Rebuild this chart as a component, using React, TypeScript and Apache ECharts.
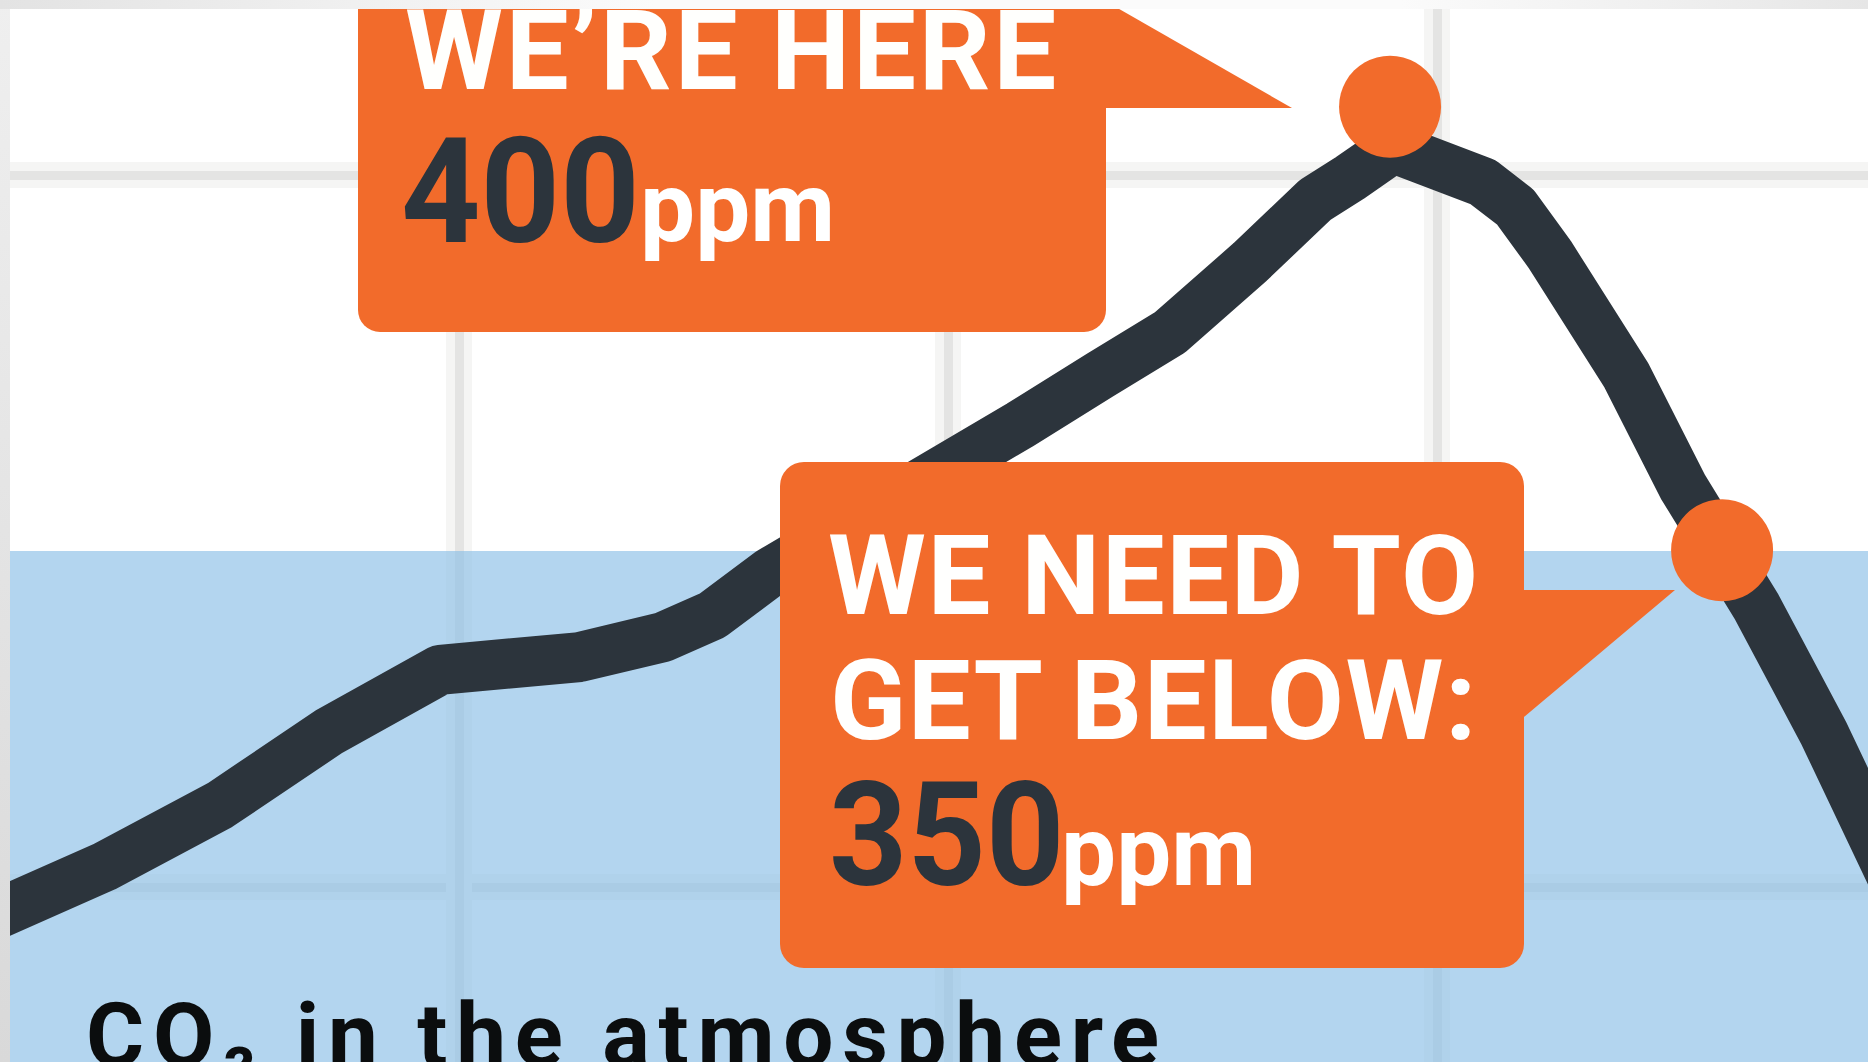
import React, { useEffect, useRef } from "react";
import * as echarts from "echarts";

// CO2 curve (x: time units, gridline every 10; y: level units, gridline every 10)
const curveX = [0, 2.76, 5.11, 7.36, 9.61, 12.47, 14.17, 15.19, 16.36, 21.47, 23.11, 24.54, 26.18, 27.51, 28.22, 29.1, 30.94, 31.6, 32.31, 33.87, 35.03, 36.54, 37.91, 40.0];
const curveY = [9.45, 10.29, 11.15, 12.19, 13.05, 13.23, 13.51, 13.82, 14.42, 16.49, 17.19, 17.79, 18.78, 19.65, 19.96, 20.38, 19.9, 19.55, 18.88, 17.19, 15.62, 13.93, 12.16, 9.14];

// highlighted points: "we're here" (400 ppm) and "need to get below" (350 ppm)
const markerX = [29.04, 35.83];
const markerY = [20.96, 14.73];

// safe zone band (below 350 ppm)
const bandFrom = 0;
const bandTo = 14.72;

// axis ranges
const xRange = [0, 40];
const yRange = [0, 30];
const gridStep = 10;

const calloutTop = ["WE\u2019RE HERE", "400", "ppm"];
const calloutBottom = ["WE NEED TO", "GET BELOW:", "350", "ppm"];
const footerTitle = "CO\u2082 in the atmosphere";

const ORANGE = "#f26b2b";
const DARK = "#2c343c";
const FONT = "Roboto, 'Liberation Sans', sans-serif";

// text colours (slightly distinct so that spacing can be tuned per text)
const CAPTION_FILL = "#fffffe";
const CAPTION2_FILL = "#fffffd";
const UNIT_FILL = "#ffffff";
const FOOTER_FILL = "#0b0d0e";

export default function App() {
  const ref = useRef<HTMLDivElement>(null);

  useEffect(() => {
    if (!ref.current) return;
    const chart = echarts.init(ref.current, undefined, { renderer: "svg" });
    const data = curveX.map((x, i) => [x, curveY[i]]);
    const markers = markerX.map((x, i) => [x, markerY[i]]);

    const hiddenAxis = {
      type: "value" as const,
      interval: gridStep,
      axisLine: { show: false },
      axisTick: { show: false },
      axisLabel: { show: false },
    };

    const text = (t: string, x: number, y: number, size: number, fill: string, scaleX = 1) => ({
      type: "text",
      z: 60,
      x,
      y,
      scaleX,
      scaleY: 1,
      style: {
        text: t,
        x: 0,
        y: 0,
        fill,
        fontSize: size,
        fontWeight: "bold",
        fontFamily: FONT,
        textAlign: "left",
        verticalAlign: "middle",
        textVerticalAlign: "middle",
      },
    });

    chart.setOption({
      animation: false,
      backgroundColor: "#ffffff",
      grid: { left: -30, right: -58, top: -537, bottom: -537, outerBoundsMode: "none" },
      xAxis: [
        {
          ...hiddenAxis,
          min: xRange[0],
          max: xRange[1],
          splitLine: { show: true, lineStyle: { color: "#f5f5f4", width: 26 } },
        },
        {
          ...hiddenAxis,
          min: xRange[0],
          max: xRange[1],
          position: "top",
          splitLine: { show: true, lineStyle: { color: "#e4e4e3", width: 9 } },
        },
      ],
      yAxis: [
        {
          ...hiddenAxis,
          min: yRange[0],
          max: yRange[1],
          splitLine: { show: true, lineStyle: { color: "#f5f5f4", width: 26 } },
        },
        {
          ...hiddenAxis,
          min: yRange[0],
          max: yRange[1],
          position: "right",
          splitLine: { show: true, lineStyle: { color: "#e4e4e3", width: 9 } },
        },
      ],
      series: [
        {
          type: "line",
          name: "CO2",
          data,
          showSymbol: false,
          symbol: "none",
          z: 2,
          lineStyle: { color: DARK, width: 50, join: "round", cap: "butt" },
          markArea: {
            silent: true,
            itemStyle: { color: "rgba(139,191,231,0.654)" },
            data: [[{ yAxis: bandFrom }, { yAxis: bandTo }]],
          },
        },
        {
          type: "scatter",
          name: "markers",
          data: markers,
          symbolSize: 102,
          z: 3,
          itemStyle: { color: ORANGE, opacity: 1 },
        },
      ],
      graphic: [
        // top callout
        { type: "rect", z: 50, shape: { x: 358, y: -60, width: 748, height: 392, r: 22 }, style: { fill: ORANGE } },
        { type: "polygon", z: 50, shape: { points: [[1100, -2], [1292, 108], [1100, 108]] }, style: { fill: ORANGE } },
        text(calloutTop[0], 405, 50, 112, CAPTION2_FILL),
        text(calloutTop[1], 401, 192, 146, DARK, 0.95),
        text(calloutTop[2], 640, 207, 98, UNIT_FILL),
        // bottom callout
        { type: "rect", z: 50, shape: { x: 780, y: 462, width: 744, height: 506, r: 24 }, style: { fill: ORANGE } },
        { type: "polygon", z: 50, shape: { points: [[1518, 590], [1675, 590], [1518, 722]] }, style: { fill: ORANGE } },
        text(calloutBottom[0], 828, 575, 112, CAPTION_FILL),
        text(calloutBottom[1], 830, 700, 112, CAPTION_FILL),
        text(calloutBottom[2], 829, 836, 144, DARK, 0.95),
        text(calloutBottom[3], 1061, 851, 98, UNIT_FILL),
        // footer title
        text(footerTitle, 86, 1035, 89, FOOTER_FILL),
        // page frame shading
        {
          type: "rect",
          z: 100,
          shape: { x: 0, y: 0, width: 10, height: 1062 },
          style: {
            fill: new echarts.graphic.LinearGradient(0, 0, 0, 1, [
              { offset: 0, color: "#efefef" },
              { offset: 1, color: "#d9d9d9" },
            ]),
          },
        },
        {
          type: "rect",
          z: 100,
          shape: { x: 0, y: 0, width: 1868, height: 9 },
          style: {
            fill: new echarts.graphic.LinearGradient(0, 0, 1, 0, [
              { offset: 0, color: "#e3e3e3" },
              { offset: 0.35, color: "#fbfbfb" },
              { offset: 0.75, color: "#fbfbfb" },
              { offset: 1, color: "#e6e6e6" },
            ]),
          },
        },
      ],
    });

    return () => chart.dispose();
  }, []);

  const css = `
    text[fill="${CAPTION_FILL}"] { letter-spacing: 1.5px; }
    text[fill="${CAPTION2_FILL}"] { letter-spacing: 2.8px; }
    text[fill="${FOOTER_FILL}"] { letter-spacing: 8.7px; }
  `;

  return (
    <>
      <style>{css}</style>
      <div
        ref={ref}
        style={{ position: "fixed", left: 0, top: 0, width: 1868, height: 1062, background: "#fff" }}
      />
    </>
  );
}
